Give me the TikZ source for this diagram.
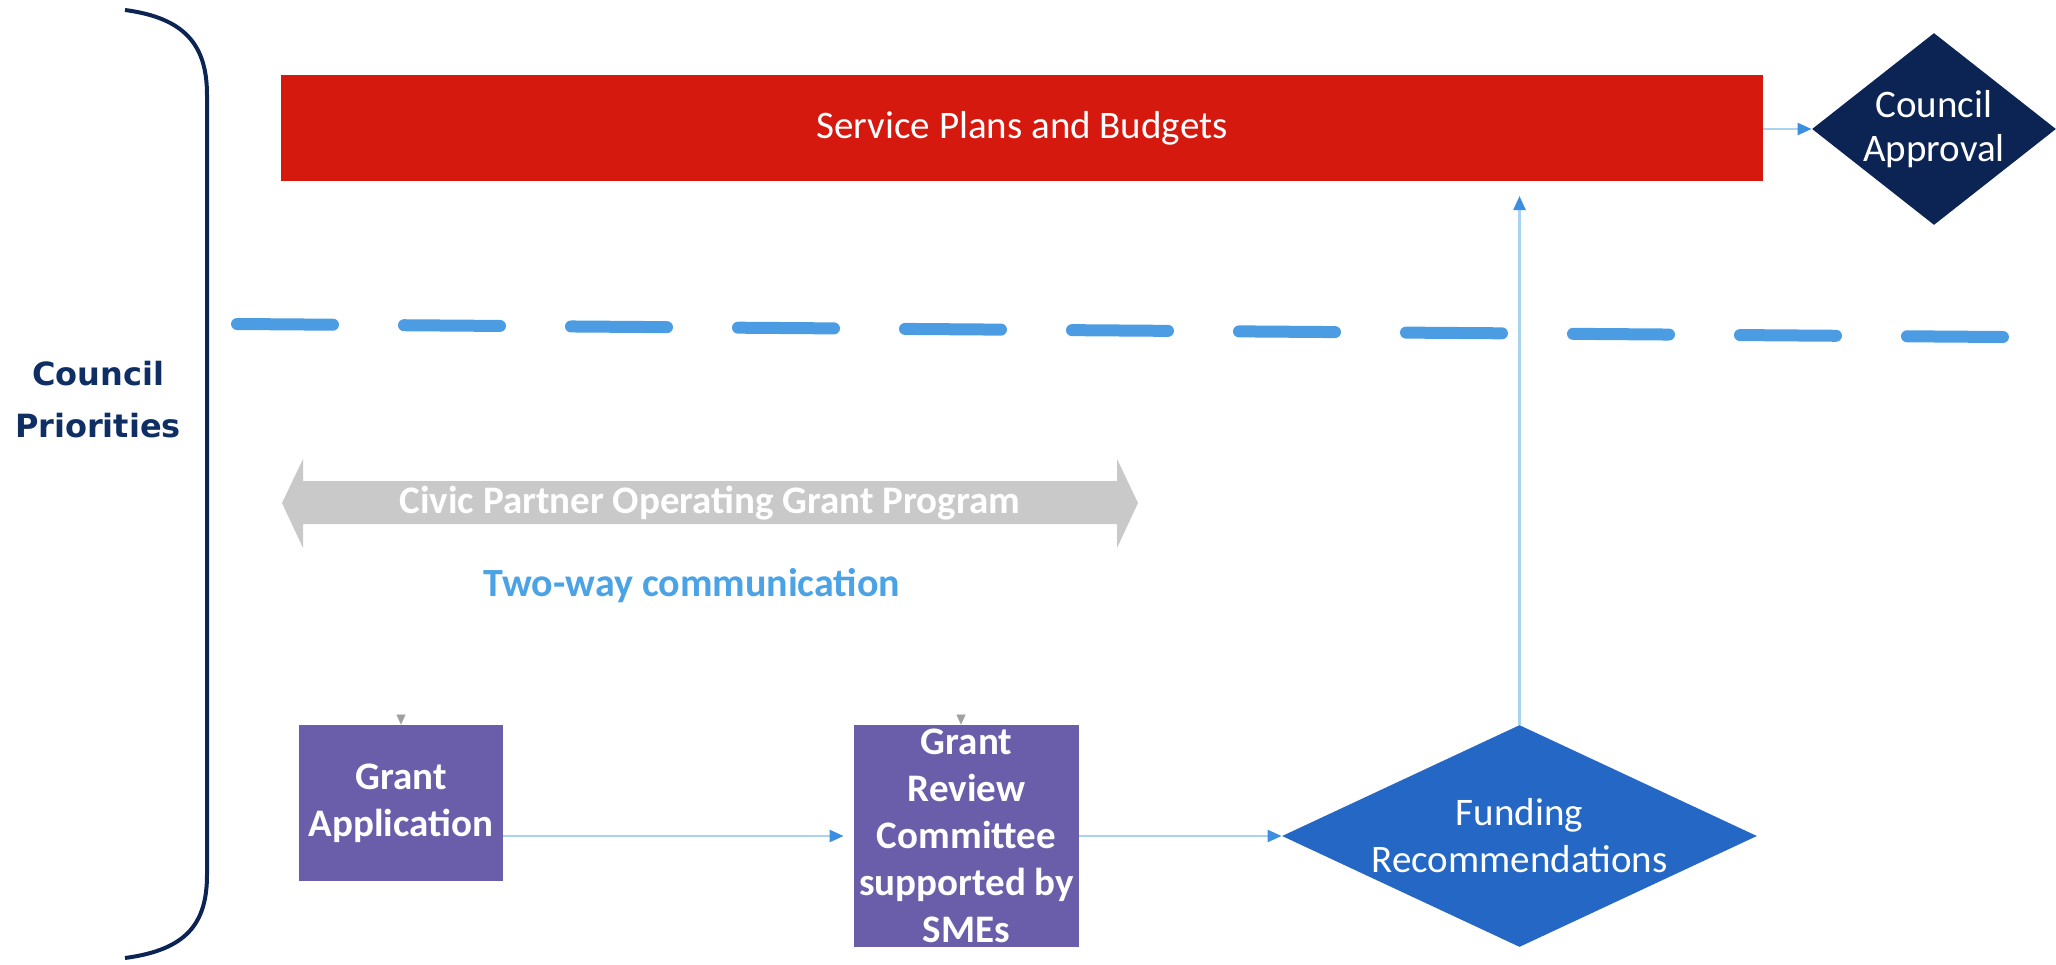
\documentclass[tikz,border=0pt]{standalone}
\usepackage{fontspec}
\setmainfont{Carlito}
\newfontfamily\dejavu{DejaVu Sans}
\usetikzlibrary{shapes.geometric,arrows.meta}
\definecolor{spred}{HTML}{D6190F}
\definecolor{navy}{HTML}{0C2454}
\definecolor{purp}{HTML}{6A5DAA}
\definecolor{fundblue}{HTML}{2467C4}
\definecolor{dashblue}{HTML}{4B9CE3}
\definecolor{argrey}{HTML}{C9C9C9}
\definecolor{twoway}{HTML}{4BA3E6}
\definecolor{connline}{HTML}{A9D3EE}
\definecolor{tipblue}{HTML}{3C8FE0}
\definecolor{prio}{HTML}{0F2E63}
\definecolor{tipgrey}{HTML}{A0A0A0}
\begin{document}
\begin{tikzpicture}[x=0.5pt,y=-0.5pt,
  txt/.style={text=white,font=\fontsize{19.5}{23.5}\selectfont,align=center,inner sep=0pt},
  redbox/.style={txt,fill=spred,rectangle},
  purpbox/.style={txt,fill=purp,rectangle,font=\fontsize{19.5}{23.5}\selectfont\bfseries},
  dia/.style={txt,diamond},
  conn/.style={draw=connline,line width=1.2pt,-{Triangle[length=7pt,width=6pt,color=tipblue]}},
  greytip/.style={draw=white,line width=0.2pt,-{Triangle[length=5pt,width=4.5pt,color=tipgrey]}}
]
\useasboundingbox (0,0) rectangle (2056,964);

% bracket
\draw[navy,line width=2pt] (125,10) .. controls (185,18) and (207,45) .. (207,95)
  -- (207,875) .. controls (207,925) and (185,950) .. (125,958);
\node[font=\dejavu\bfseries\fontsize{16}{26}\selectfont,text=prio,align=center,inner sep=0pt] (cp) at (98,400) {Council\\Priorities};

% top row
\node[redbox,minimum width=741pt,minimum height=53pt] (spb) at (1022,128) {Service Plans and Budgets};
\node[dia,fill=navy,minimum width=122pt,minimum height=96pt,shape aspect=1.27,
      font=\fontsize{19.5}{22}\selectfont] (ca) at (1934,129) {Council\\Approval};
\draw[conn] (spb.east |- ca.west) -- (ca.west);

% dashed separator
\draw[dashblue,line width=6pt,line cap=round,dash pattern=on 48pt off 35.5pt] (237,324) -- (2003,337);

% grey double arrow
\fill[argrey] (282,503) -- (303,459) -- (303,481) -- (1117,481) -- (1117,459) -- (1138,503)
  -- (1117,548) -- (1117,524) -- (303,524) -- (303,548) -- cycle;
\node[txt,font=\fontsize{19.5}{23.5}\selectfont\bfseries] (cpog) at (710,503) {Civic Partner Operating Grant Program};
\node[text=twoway,font=\fontsize{20}{24}\selectfont\bfseries,inner sep=0pt] (tw) at (692,586) {Two-way communication};

% bottom row
\node[purpbox,minimum width=102pt,minimum height=78pt] (ga) at (401,803) {Grant\\Application};
\node[purpbox,minimum width=112.5pt,minimum height=111pt] (gr) at (966.5,836) {Grant\\Review\\Committee\\supported by\\SMEs};
\node[dia,fill=fundblue,minimum width=237.5pt,minimum height=111pt,shape aspect=2.14] (fund) at (1519.5,836) {Funding\\Recommendations};

\draw[conn,shorten >=5pt] (ga.east |- gr.west) -- (gr.west);
\draw[conn] (gr.east) -- (fund.west);
\coordinate (upend) at (1519.5,196);
\draw[conn] (fund.north) -- (upend);

% small grey tips above boxes
\coordinate (gain) at (401,704);
\coordinate (grin) at (961,702);
\draw[greytip] (gain) -- (ga.north);
\draw[greytip] (grin) -- (gr.north -| grin);
\end{tikzpicture}
\end{document}
